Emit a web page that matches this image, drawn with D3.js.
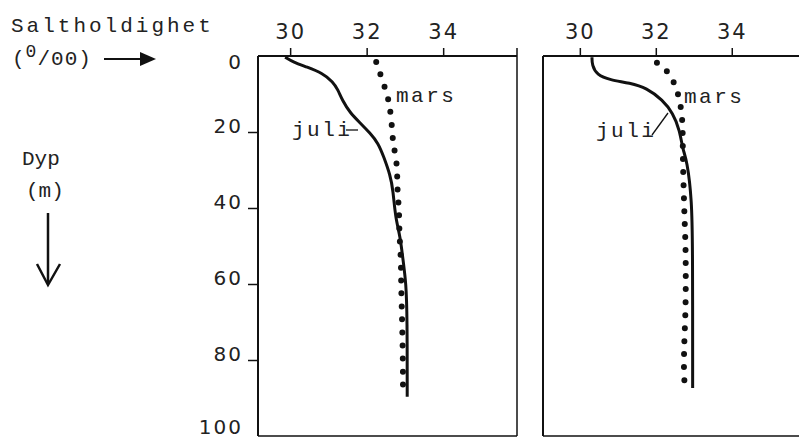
<!DOCTYPE html>
<html lang="no">
<head>
<meta charset="UTF-8" />
<title>Saltholdighet mot dyp</title>
<script src="https://d3js.org/d3.v7.min.js"></script>
<style>
  body { margin: 0; background: #fff; }
  svg { display: block; }
  .mono { font-family: "Liberation Mono", "DejaVu Sans Mono", monospace; fill: #222; }
  .tick { font-family: "DejaVu Sans", sans-serif; fill: #222; }
</style>
</head>
<body>
<svg width="799" height="438"></svg>
<script>
// --- data (salinity in o/oo, depth in m) ---
const xTicks = [30, 32, 34];
const yTicks = [0, 20, 40, 60, 80, 100];

// left panel
const juliLeftSal = [29.87, 30.08, 30.44, 30.84, 31.12, 31.25, 31.36, 31.57, 31.83, 32.09, 32.30, 32.45, 32.62, 32.69, 32.75, 32.88, 32.95, 33.03, 33.06, 33.06];
const juliLeftDep = [0.3, 1.6, 2.9, 4.5, 6.8, 8.9, 11.6, 15, 17.6, 20.3, 22.9, 26.6, 31.5, 35.3, 42.4, 47.6, 53.7, 59.7, 68.7, 89.7];
const marsLeftSal = [32.25, 32.41, 32.54, 32.61, 32.67, 32.69, 32.8, 32.8, 32.85, 32.85, 32.9, 32.9, 32.92, 32.95, 32.95];
const marsLeftDep = [1.6, 6.3, 10.3, 13.4, 19.5, 23.4, 27.9, 35.8, 40, 46.3, 53.7, 59.7, 66.8, 80, 89.7];

// right panel
const juliRightSal = [30.32, 30.32, 30.45, 30.79, 31.32, 31.76, 32.18, 32.45, 32.63, 32.71, 32.82, 32.95, 32.97, 32.97];
const juliRightDep = [0.3, 2.4, 5, 6.3, 7.1, 8.4, 11.6, 15, 19.5, 24.7, 27.4, 37.9, 51, 87.4];
const marsRightSal = [32.03, 32.29, 32.45, 32.55, 32.63, 32.68, 32.71, 32.71, 32.74, 32.76, 32.79, 32.79, 32.76, 32.74, 32.74, 32.79];
const marsRightDep = [1.8, 3.7, 6.3, 8.9, 11.6, 15, 18.7, 26.8, 37.1, 43.9, 51, 65.5, 72.6, 78.7, 85.3, 88.2];

const svg = d3.select("svg");

const yTop = 56, yBot = 436;
const y = d3.scaleLinear().domain([0, 100]).range([yTop, yBot]);

const panels = [
  { x0: 258, x1: 517, x: d3.scaleLinear().domain([29.16, 35.93]).range([258, 517]),
    juli: d3.zip(juliLeftSal, juliLeftDep), mars: d3.zip(marsLeftSal, marsLeftDep), right: true, yAxis: true },
  { x0: 543, x1: 810, x: d3.scaleLinear().domain([29.03, 36.06]).range([543, 810]),
    juli: d3.zip(juliRightSal, juliRightDep), mars: d3.zip(marsRightSal, marsRightDep), right: false, yAxis: false }
];

const line = sc => d3.line()
  .x(d => sc(d[0]))
  .y(d => y(d[1]))
  .curve(d3.curveBasis);

panels.forEach(p => {
  const g = svg.append("g");
  // frame
  g.append("line").attr("x1", p.x0).attr("x2", p.x1).attr("y1", yTop).attr("y2", yTop)
    .attr("stroke", "#111").attr("stroke-width", 2);
  g.append("line").attr("x1", p.x0).attr("x2", p.x0).attr("y1", yTop).attr("y2", yBot)
    .attr("stroke", "#111").attr("stroke-width", 2);
  g.append("line").attr("x1", p.x0).attr("x2", p.x1).attr("y1", yBot).attr("y2", yBot)
    .attr("stroke", "#111").attr("stroke-width", 1.5);
  if (p.right) {
    g.append("line").attr("x1", p.x1).attr("x2", p.x1).attr("y1", yTop - 8).attr("y2", yBot)
      .attr("stroke", "#111").attr("stroke-width", 1.5);
  }

  // top axis
  const ax = d3.axisTop(p.x).tickValues(xTicks).tickFormat(d3.format("d")).tickSize(8).tickPadding(9);
  const axg = g.append("g").attr("transform", `translate(0,${yTop})`).call(ax);
  axg.select(".domain").remove();
  axg.selectAll(".tick line").attr("stroke", "#111").attr("stroke-width", 1.5);
  axg.selectAll(".tick text").attr("class", "tick").attr("font-size", 21)
    .attr("letter-spacing", 2).attr("fill", "#222");

  // left axis
  if (p.yAxis) {
    const ay = d3.axisLeft(y).tickValues(yTicks).tickSize(10).tickPadding(5);
    const ayg = g.append("g").attr("transform", `translate(${p.x0},0)`).call(ay);
    ayg.select(".domain").remove();
    ayg.selectAll(".tick line").attr("stroke", "#111").attr("stroke-width", 1.5)
      .attr("opacity", d => (d === 0 || d === 100) ? 0 : 1);
    ayg.selectAll(".tick text").attr("class", "tick").attr("font-size", 20)
      .attr("letter-spacing", 2).attr("fill", "#222")
      .attr("dy", d => d === 0 ? "0.6em" : d === 100 ? "-0.15em" : "0em");
  }

  // curves
  g.append("path").attr("d", line(p.x)(p.juli))
    .attr("fill", "none").attr("stroke", "#111").attr("stroke-width", 3);
  g.append("path").attr("d", line(p.x)(p.mars))
    .attr("fill", "none").attr("stroke", "#111").attr("stroke-width", 6)
    .attr("stroke-linecap", "round").attr("stroke-dasharray", "0 13");
});

// series labels
const lab = (x, yy, t) => svg.append("text").attr("class", "mono").attr("x", x).attr("y", yy)
  .attr("font-size", 21).attr("letter-spacing", 2.5).text(t);
lab(396, 102, "mars");
lab(292, 136, "juli");
lab(684, 103, "mars");
lab(596, 137, "juli");
svg.append("line").attr("x1", 346).attr("x2", 358).attr("y1", 130).attr("y2", 130)
  .attr("stroke", "#111").attr("stroke-width", 1.3);
svg.append("line").attr("x1", 652).attr("x2", 668).attr("y1", 135).attr("y2", 113)
  .attr("stroke", "#111").attr("stroke-width", 1.3);

// axis titles
svg.append("text").attr("class", "mono").attr("x", 11).attr("y", 32)
  .attr("font-size", 21).attr("letter-spacing", 3).text("Saltholdighet");
const u = svg.append("text").attr("class", "mono").attr("x", 12).attr("y", 65)
  .attr("font-size", 21).attr("letter-spacing", 1);
u.append("tspan").text("(");
u.append("tspan").attr("dy", -8).attr("font-size", 18).text("0");
u.append("tspan").attr("dy", 8).text("/00)");
svg.append("line").attr("x1", 104).attr("x2", 142).attr("y1", 59).attr("y2", 59)
  .attr("stroke", "#111").attr("stroke-width", 2);
svg.append("path").attr("d", "M140,52 L156,59 L140,66 Z").attr("fill", "#111");

svg.append("text").attr("class", "mono").attr("x", 22).attr("y", 165)
  .attr("font-size", 21).attr("letter-spacing", 0).text("Dyp");
svg.append("text").attr("class", "mono").attr("x", 26).attr("y", 197)
  .attr("font-size", 21).attr("letter-spacing", 0).text("(m)");
svg.append("line").attr("x1", 48).attr("x2", 48).attr("y1", 213).attr("y2", 284)
  .attr("stroke", "#111").attr("stroke-width", 2.5);
svg.append("path").attr("d", "M37,264 L48,285 L60,264")
  .attr("fill", "none").attr("stroke", "#111").attr("stroke-width", 2.5);
</script>
</body>
</html>
